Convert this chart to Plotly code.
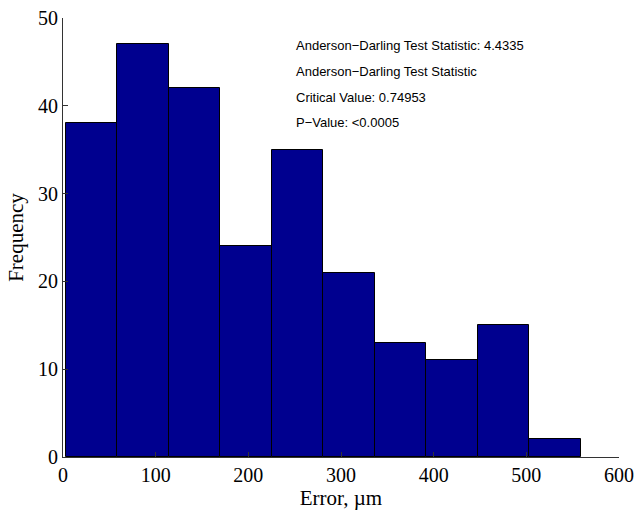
import plotly.graph_objects as go

bin_edges = [3.0, 58.6, 114.2, 169.8, 225.4, 281.0, 336.6, 392.2, 447.8, 503.4, 559.0]
counts = [38, 47, 42, 24, 35, 21, 13, 11, 15, 2]
x_ticks = [0, 100, 200, 300, 400, 500, 600]
y_ticks = [0, 10, 20, 30, 40, 50]
stats_lines = [
    "Anderson\u2212Darling Test Statistic: 4.4335",
    "Anderson\u2212Darling Test Statistic",
    "Critical Value: 0.74953",
    "P\u2212Value: <0.0005",
]

W, H = 636, 511
L, R, T, B = 63, 619, 18, 457

centers = [(a + b) / 2 for a, b in zip(bin_edges[:-1], bin_edges[1:])]
widths = [b - a for a, b in zip(bin_edges[:-1], bin_edges[1:])]

fig = go.Figure(go.Bar(
    x=centers, y=counts, width=widths,
    marker=dict(color="#00008F", line=dict(color="black", width=1)),
))

for i, t in enumerate(stats_lines):
    ypix = 45 + i * 26
    fig.add_annotation(
        x=(294 - L) / (R - L), xref="paper", xanchor="left",
        y=(B - ypix) / (B - T), yref="paper", yanchor="middle",
        text=t, showarrow=False,
        font=dict(family="Liberation Sans, Arial", size=13, color="black"),
    )

fig.update_layout(
    width=W, height=H,
    margin=dict(l=L, r=W - R, t=T, b=H - B),
    paper_bgcolor="white", plot_bgcolor="white",
    showlegend=False, bargap=0,
    font=dict(family="Liberation Serif, Times New Roman", size=20, color="black"),
    xaxis=dict(
        range=[0, 600], tickvals=x_ticks, ticks="inside", ticklen=5,
        showline=True, linecolor="#333", linewidth=1, showgrid=False,
        zeroline=False, mirror=False, tickcolor="#333", automargin=False,
        title=dict(text="Error, \u00b5m", standoff=4, font=dict(size=21)),
    ),
    yaxis=dict(
        range=[0, 50], tickvals=y_ticks, ticks="inside", ticklen=5,
        showline=True, linecolor="#333", linewidth=1, showgrid=False,
        zeroline=False, mirror=False, tickcolor="#333", automargin=False,
        title=dict(text="Frequency", standoff=8, font=dict(size=21)),
    ),
)

fig.write_html(
    "out.html",
    config={"displayModeBar": False},
    post_script="document.body.style.margin='0';document.body.style.overflow='hidden';",
)
